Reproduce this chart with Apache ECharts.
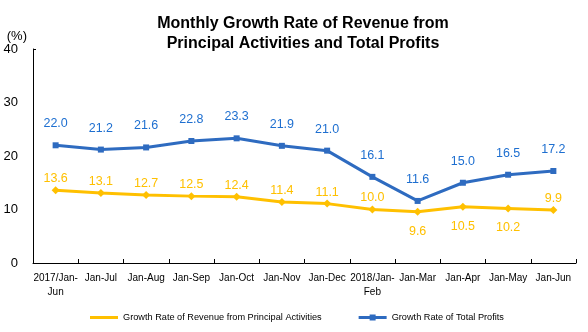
<!DOCTYPE html>
<html><head><meta charset="utf-8">
<script src="https://cdn.jsdelivr.net/npm/echarts@6/dist/echarts.min.js"></script>
<style>html,body{margin:0;padding:0;background:#fff}#c{width:588px;height:332px}</style>
</head><body><div id="c"></div>
<script>
const categories = ['2017/Jan-\nJun','Jan-Jul','Jan-Aug','Jan-Sep','Jan-Oct','Jan-Nov','Jan-Dec','2018/Jan-\nFeb','Jan-Mar','Jan-Apr','Jan-May','Jan-Jun'];
const revenueGrowth = [13.6,13.1,12.7,12.5,12.4,11.4,11.1,10.0,9.6,10.5,10.2,9.9];
const profitGrowth = [22.0,21.2,21.6,22.8,23.3,21.9,21.0,16.1,11.6,15.0,16.5,17.2];
const yTicks = [0,10,20,30,40];

const belowIdx = [8,9,10];
const ORANGE = '#FFC000', BLUE = '#2E6BC0', BLUE_LBL = '#1E6FD0';
const NARROW = "'Liberation Sans Narrow','Arial Narrow','Liberation Sans',sans-serif";
const chart = echarts.init(document.getElementById('c'));
chart.setOption({
  animation:false,
  backgroundColor:'#fff',
  title:{
    text:'Monthly Growth Rate of Revenue from\nPrincipal Activities and Total Profits',
    left:298, top:9, textAlign:'center',
    textStyle:{fontFamily:'Liberation Sans',fontSize:16,fontWeight:'bold',color:'#000',lineHeight:20}
  },
  legend:{
    left:90, top:313, padding:0, itemGap:37, itemWidth:28, itemHeight:8,
    textStyle:{fontFamily:NARROW,fontSize:9.2,color:'#000'},
    data:[
      {name:'Growth Rate of Revenue from Principal Activities',icon:'path://M0,0L0.01,0L0,0.01ZM0,2.5h28v3H0ZM28,8L27.99,8L28,7.99Z'},
      {name:'Growth Rate of Total Profits',icon:'path://M0,0L0.01,0L0,0.01ZM0,2.5h28v3H0ZM11,1h6v6h-6ZM28,8L27.99,8L28,7.99Z'}
    ]
  },
  grid:{left:33,right:12,top:49,bottom:69},
  xAxis:{
    type:'category', data:categories, boundaryGap:true,
    axisLine:{lineStyle:{color:'#000',width:1}},
    axisTick:{show:true,inside:true,length:4,lineStyle:{color:'#000'},alignWithLabel:false},
    axisLabel:{interval:0,fontFamily:NARROW,fontSize:10,color:'#000',margin:8,lineHeight:14}
  },
  yAxis:{
    type:'value', min:yTicks[0], max:yTicks[yTicks.length-1], interval:10,
    name:'(%)', nameLocation:'end', nameGap:1,
    nameTextStyle:{fontFamily:'Liberation Sans',fontSize:13,color:'#000',align:'right',padding:[0,6,0,0]},
    axisLine:{show:true,lineStyle:{color:'#000',width:1}},
    axisTick:{show:true,inside:true,length:3,customValues:[40],lineStyle:{color:'#000'}},
    splitLine:{show:false},
    axisLabel:{fontFamily:'Liberation Sans',fontSize:13,color:'#000',margin:15}
  },
  series:[
    {
      name:'Growth Rate of Revenue from Principal Activities', type:'line',
      data:revenueGrowth.map((v,i)=> belowIdx.includes(i) ? {value:v,label:{position:'bottom',distance:9}} : v),
      symbol:'diamond', symbolSize:8,
      lineStyle:{color:ORANGE,width:3}, itemStyle:{color:ORANGE},
      label:{show:true,position:'top',distance:1,color:ORANGE,fontFamily:'Liberation Sans',fontSize:12.5,
        formatter:p=>Number(p.value).toFixed(1)}
    },
    {
      name:'Growth Rate of Total Profits', type:'line',
      data:profitGrowth,
      symbol:'rect', symbolSize:6,
      lineStyle:{color:BLUE,width:3}, itemStyle:{color:BLUE},
      label:{show:true,position:'top',distance:12,color:BLUE_LBL,fontFamily:'Liberation Sans',fontSize:12.5,
        formatter:p=>Number(p.value).toFixed(1)}
    }
  ]
});
</script></body></html>
